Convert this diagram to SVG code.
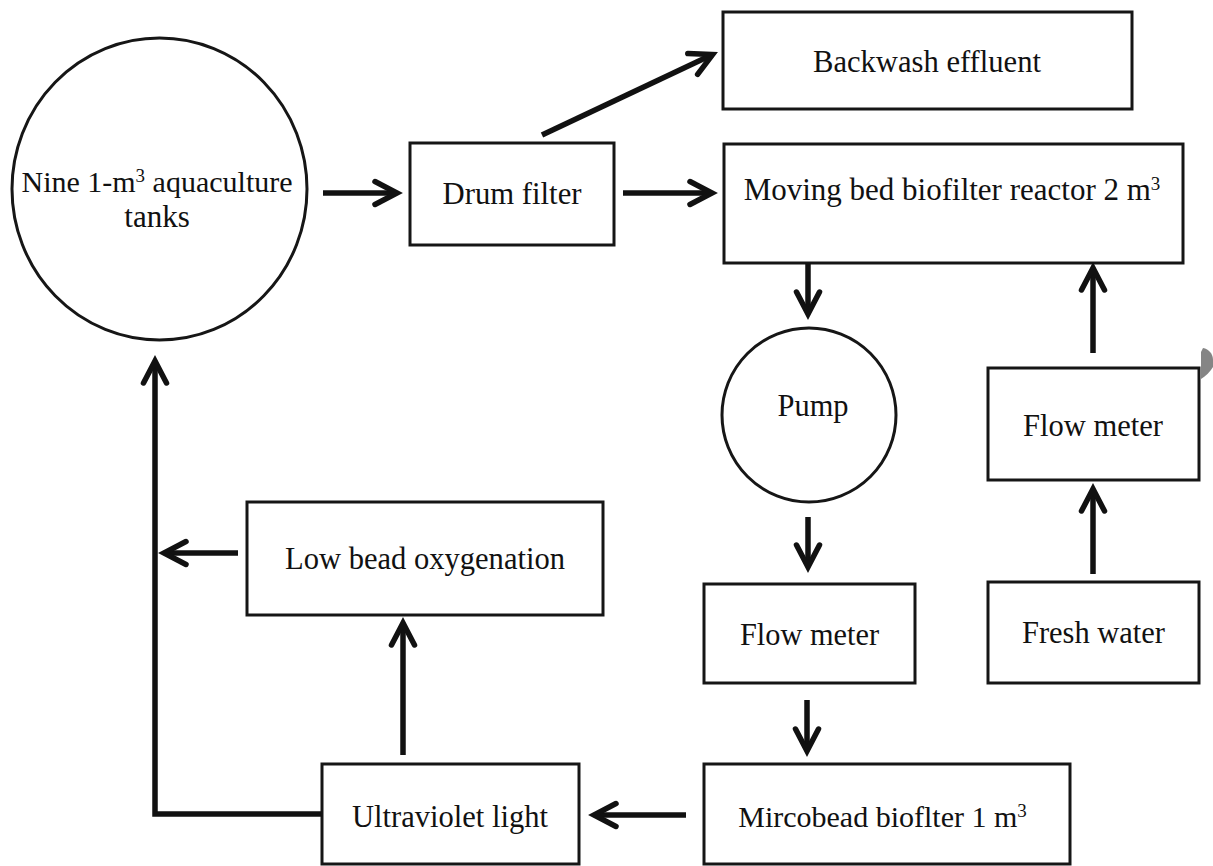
<svg xmlns="http://www.w3.org/2000/svg" width="1213" height="866" viewBox="0 0 1213 866">
<defs>
<style>
.box{fill:#fff;stroke:#161616;stroke-width:3}
.circ{fill:#fff;stroke:#161616;stroke-width:3}
.lbl{font-family:"Liberation Serif","Times New Roman",serif;font-size:31px;fill:#111;text-anchor:middle}
.s30{font-size:30px}
.sup{font-size:19px}
.con{fill:none;stroke:#111;stroke-width:5.5;stroke-linecap:butt;stroke-linejoin:miter}
</style>
<marker id="ah" viewBox="0 0 30 26" refX="25" refY="13" markerWidth="30" markerHeight="26" orient="auto" markerUnits="userSpaceOnUse" overflow="visible">
<path d="M3,1.5 L25,13 L3,24.5" fill="none" stroke="#111" stroke-width="5.5" stroke-linecap="round" stroke-linejoin="miter"/>
</marker>
</defs>
<rect width="1213" height="866" fill="#fff"/>

<g id="tanks">
<ellipse class="circ" cx="159.5" cy="189" rx="147.5" ry="151"/>
<text class="lbl s30" x="157" y="192">Nine 1-m<tspan class="sup" dy="-10">3</tspan><tspan dy="10"> aquaculture</tspan></text>
<text class="lbl" x="157" y="227">tanks</text>
</g>

<g id="drum">
<rect class="box" x="410" y="143" width="204" height="102"/>
<text class="lbl" x="512" y="204" textLength="139" lengthAdjust="spacingAndGlyphs">Drum filter</text>
</g>

<g id="backwash">
<rect class="box" x="723" y="12" width="409" height="97"/>
<text class="lbl" x="927" y="72" textLength="228" lengthAdjust="spacingAndGlyphs">Backwash effluent</text>
</g>

<g id="mbbr">
<rect class="box" x="724" y="144" width="459" height="119"/>
<text class="lbl" x="952" y="200">Moving bed biofilter reactor 2 m<tspan class="sup" dy="-10">3</tspan></text>
</g>

<g id="pump">
<circle class="circ" cx="809" cy="415" r="87"/>
<text class="lbl" x="813" y="416" textLength="71" lengthAdjust="spacingAndGlyphs">Pump</text>
</g>

<g id="flowmeter1">
<rect class="box" x="704" y="584" width="211" height="99"/>
<text class="lbl" x="809.5" y="645" textLength="139" lengthAdjust="spacingAndGlyphs">Flow meter</text>
</g>

<g id="flowmeter2">
<rect class="box" x="988" y="368" width="211" height="112"/>
<text class="lbl" x="1093" y="436" textLength="140" lengthAdjust="spacingAndGlyphs">Flow meter</text>
</g>

<g id="freshwater">
<rect class="box" x="988" y="582" width="211" height="101"/>
<text class="lbl" x="1093.5" y="643" textLength="143" lengthAdjust="spacingAndGlyphs">Fresh water</text>
</g>

<g id="microbead">
<rect class="box" x="704" y="764" width="366" height="100"/>
<text class="lbl s30" x="882.5" y="827">Mircobead bioflter 1 m<tspan class="sup" dy="-10">3</tspan></text>
</g>

<g id="uv">
<rect class="box" x="322" y="764" width="257" height="100"/>
<text class="lbl" x="450" y="827" textLength="196" lengthAdjust="spacingAndGlyphs">Ultraviolet light</text>
</g>

<g id="lowbead">
<rect class="box" x="247" y="502" width="356" height="113"/>
<text class="lbl" x="425" y="569" textLength="280" lengthAdjust="spacingAndGlyphs">Low bead oxygenation</text>
</g>

<g id="connectors">
<path class="con" marker-end="url(#ah)" d="M323,193 L397,193"/>
<path class="con" marker-end="url(#ah)" d="M542,135 L712.6,54.6"/>
<path class="con" marker-end="url(#ah)" d="M623,193 L712,193"/>
<path class="con" marker-end="url(#ah)" d="M808,263 L808,314"/>
<path class="con" marker-end="url(#ah)" d="M808,517 L808,567"/>
<path class="con" marker-end="url(#ah)" d="M807,700 L807,751"/>
<path class="con" marker-end="url(#ah)" d="M686,815 L594,815"/>
<path class="con" marker-end="url(#ah)" d="M403,755 L403,623"/>
<path class="con" marker-end="url(#ah)" d="M322,814 L155,814 L155,361"/>
<path class="con" marker-end="url(#ah)" d="M238,553 L164,553"/>
<path class="con" marker-end="url(#ah)" d="M1093,574 L1093,489"/>
<path class="con" marker-end="url(#ah)" d="M1093,353 L1093,268"/>
</g>

<path d="M1203,348 C1209,349 1213,354 1213,360 L1213,367 C1210,372 1206,376 1201,379 L1201,352 Z" fill="#858585"/>
</svg>
